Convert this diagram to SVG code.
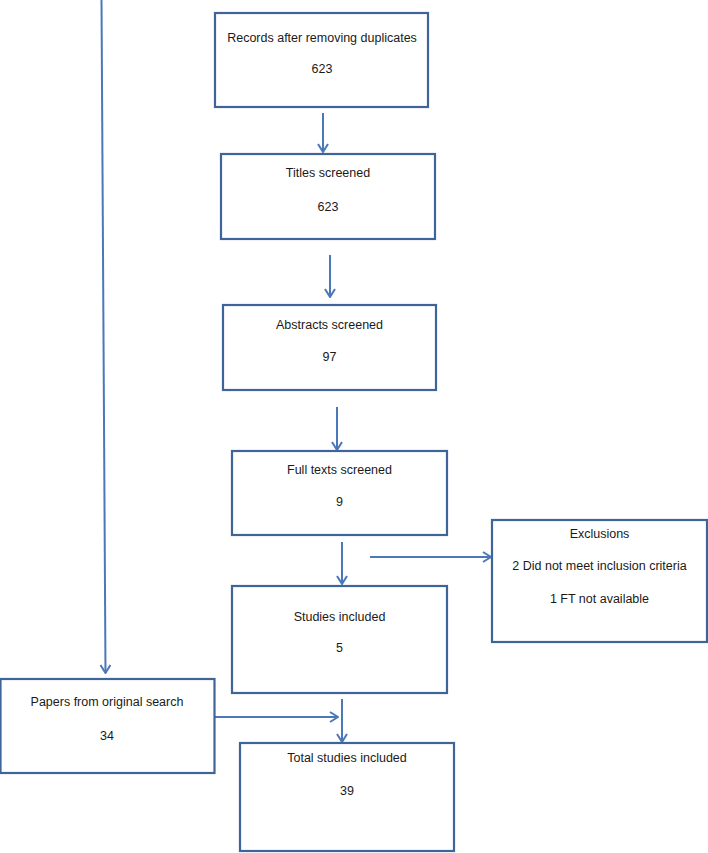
<svg xmlns="http://www.w3.org/2000/svg" width="708" height="853" viewBox="0 0 708 853">
<style>
.box{fill:#ffffff;stroke:#3f6499;stroke-width:2.2}
.t{font-family:"Liberation Sans",Arial,sans-serif;font-size:12.5px;fill:#1a1a1a;text-anchor:middle}
.c{fill:none;stroke:#4a78b8;stroke-width:2}
</style>
<defs>
<marker id="ah" viewBox="0 0 12 12" refX="11" refY="6" markerWidth="12" markerHeight="12" markerUnits="userSpaceOnUse" orient="auto">
<path d="M3,1 L11,6 L3,11" fill="none" stroke="#4a78b8" stroke-width="2"/>
</marker>
</defs>
<rect width="708" height="853" fill="#ffffff"/>
<g id="connectors">
<path class="c" d="M101.5,0 L105.5,673" marker-end="url(#ah)"/>
<path class="c" d="M323,113 L323,152" marker-end="url(#ah)"/>
<path class="c" d="M330,255 L330,297" marker-end="url(#ah)"/>
<path class="c" d="M337,407 L337,450" marker-end="url(#ah)"/>
<path class="c" d="M342,542 L342,584" marker-end="url(#ah)"/>
<path class="c" d="M370,557 L491,557" marker-end="url(#ah)"/>
<path class="c" d="M215,717 L338,717" marker-end="url(#ah)"/>
<path class="c" d="M342,699 L342,742" marker-end="url(#ah)"/>
</g>
<g id="records">
<rect class="box" x="215" y="13" width="213" height="94"/>
<text class="t" x="322" y="42">Records after removing duplicates</text>
<text class="t" x="322" y="73">623</text>
</g>
<g id="titles">
<rect class="box" x="221" y="154" width="214" height="85"/>
<text class="t" x="328" y="177">Titles screened</text>
<text class="t" x="328" y="211">623</text>
</g>
<g id="abstracts">
<rect class="box" x="223" y="305" width="213" height="85"/>
<text class="t" x="329.5" y="329">Abstracts screened</text>
<text class="t" x="329.5" y="361">97</text>
</g>
<g id="fulltexts">
<rect class="box" x="232" y="451" width="215" height="84"/>
<text class="t" x="339.5" y="474">Full texts screened</text>
<text class="t" x="339.5" y="506">9</text>
</g>
<g id="studies">
<rect class="box" x="232" y="586" width="215" height="107"/>
<text class="t" x="339.5" y="621">Studies included</text>
<text class="t" x="339.5" y="652">5</text>
</g>
<g id="exclusions">
<rect class="box" x="492" y="520" width="215" height="122"/>
<text class="t" x="599.5" y="538">Exclusions</text>
<text class="t" x="599.5" y="570">2 Did not meet inclusion criteria</text>
<text class="t" x="599.5" y="603">1 FT not available</text>
</g>
<g id="papers">
<rect class="box" x="0.5" y="679" width="214" height="94"/>
<text class="t" x="107" y="706">Papers from original search</text>
<text class="t" x="107" y="740">34</text>
</g>
<g id="total">
<rect class="box" x="240" y="743" width="214" height="108"/>
<text class="t" x="347" y="762">Total studies included</text>
<text class="t" x="347" y="795">39</text>
</g>
</svg>
